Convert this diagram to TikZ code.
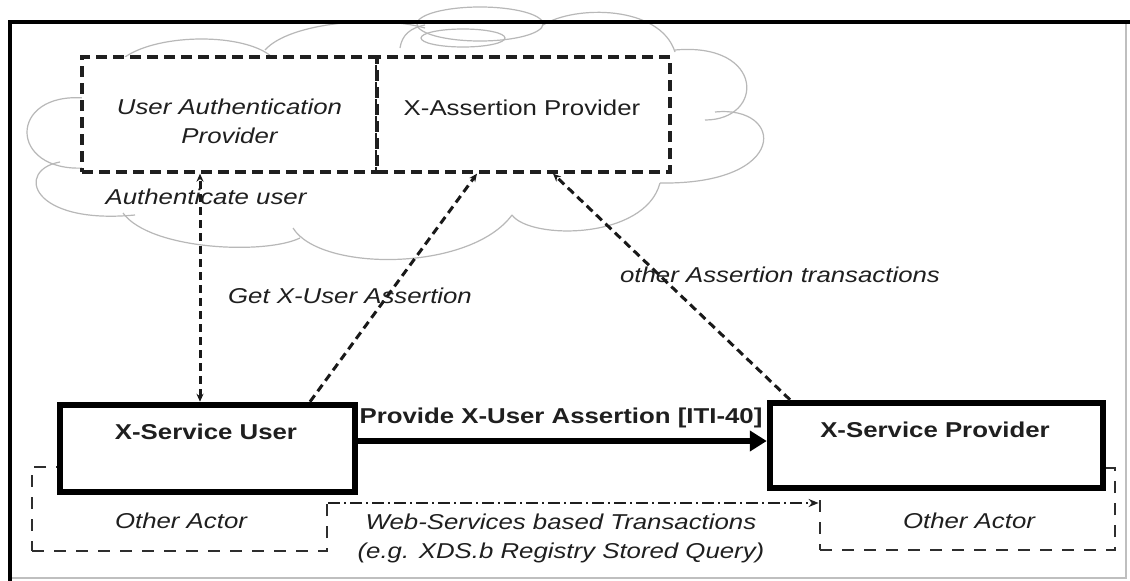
\documentclass[tikz,border=0pt]{standalone}
\usepackage{fontspec}
\setmainfont{Liberation Sans}[FakeStretch=1.2]
\usetikzlibrary{arrows.meta,calc}
\newcommand{\dfs}{\fontsize{21.5}{29}\selectfont}
\begin{document}
\begin{tikzpicture}[x=1pt,y=-1pt,
  cloudline/.style={draw=black!28, line width=1.2pt},
  dbox/.style={rectangle, inner sep=0pt, draw=black!88, line width=3.3pt, dash pattern=on 11pt off 6pt, fill=white},
  obox/.style={rectangle, inner sep=0pt, draw=black!82, line width=2.8pt, dash pattern=on 12pt off 10pt},
  tbox/.style={rectangle, inner sep=0pt, draw=black, line width=6.5pt, fill=white},
  dconn/.style={draw=black!90, line width=3pt, dash pattern=on 8pt off 5pt},
  smalltip/.style={-{Stealth[length=8pt,width=7pt]}},
  lbl/.style={anchor=base, inner sep=0pt, text=black!88, font=\dfs},
  ilbl/.style={lbl, font=\dfs\itshape},
  blbl/.style={lbl, font=\dfs\bfseries}]
\useasboundingbox (0,0) rectangle (1130,581);
\fill[white] (0,0) rectangle (1130,581);
% cloud
\draw[cloudline] (84,98) .. controls (8,92) and (8,172) .. (84,168);
\draw[cloudline] (60,162) .. controls (15,170) and (30,225) .. (135,215);
\draw[cloudline] (123,213) .. controls (150,250) and (265,255) .. (300,238);
\draw[cloudline] (293,228) .. controls (320,272) and (470,272) .. (512,215);
\draw[cloudline] (512,215) .. controls (530,240) and (645,240) .. (660,183);
\draw[cloudline] (660,183) .. controls (790,185) and (785,105) .. (715,112);
\draw[cloudline] (675,50) .. controls (765,42) and (765,120) .. (705,120);
\draw[cloudline] (543,25) .. controls (575,5) and (660,5) .. (675,52);
\draw[cloudline] (480,24) ellipse [x radius=63, y radius=17];
\draw[cloudline] (463,38) ellipse [x radius=42, y radius=9];
\draw[cloudline] (265,50) .. controls (290,22) and (380,15) .. (425,28);
\draw[cloudline] (125,57) .. controls (160,33) and (245,33) .. (272,57);
\draw[cloudline] (400,48) .. controls (402,35) and (410,28) .. (425,25);
% frame
\draw[black!25, line width=1.5pt] (10,578) -- (1126,578) -- (1126,22);
\draw[black, line width=4.5pt] (10,581) -- (10,22) -- (1130,22);
% providers in the cloud
\node[dbox, minimum width=295pt, minimum height=115pt] (uap) at (229.5,114.5) {};
\node[dbox, minimum width=293pt, minimum height=115pt] (xap) at (523.5,114.5) {};
% other actors
\node[obox, minimum width=295pt, minimum height=84pt] (oal) at (179.5,509) {};
\node[obox, minimum width=295pt, minimum height=82pt] (oar) at (967.5,509) {};
% service boxes
\node[tbox, minimum width=295pt, minimum height=87pt] (xsu) at (207.5,448.5) {};
\node[tbox, minimum width=333pt, minimum height=85pt] (xsp) at (936.5,445.5) {};
% connectors
\draw[dconn, {Stealth[length=8pt,width=7pt]}-{Stealth[length=8pt,width=7pt]}]
  ([xshift=-7.5pt]xsu.north) -- ([xshift=-7.5pt]xsu.north |- uap.south);
\draw[dconn, smalltip] ([xshift=102.5pt]xsu.north) -- ([xshift=-46.5pt]xap.south);
\draw[dconn, smalltip] ([xshift=-146.5pt]xsp.north) -- ([xshift=29.5pt]xap.south);
\draw[black, line width=5.5pt, -{Triangle[length=17pt,width=20pt]}]
  ([yshift=7.5pt]xsu.east) -- ([yshift=7.5pt]xsu.east -| xsp.west);
\draw[black!88, line width=2.4pt, dash pattern=on 12pt off 4pt on 2pt off 4pt, -{Stealth[length=10pt,width=8pt]}]
  ([yshift=6pt]oal.east) -- ([yshift=6pt]oal.east -| oar.west);
% labels
\node[ilbl, align=center] (tuap) at (229.5,143) {User Authentication\\Provider};
\node[lbl] (txap) at (522,115) {X-Assertion Provider};
\node[ilbl] (tauth) at (206,204) {Authenticate user};
\node[ilbl] (tget) at (350,303) {Get X-User Assertion};
\node[ilbl] (toth) at (780,282) {other Assertion transactions};
\node[blbl] (txsu) at (206,439) {X-Service User};
\node[blbl] (txsp) at (935,437) {X-Service Provider};
\node[blbl] (tprov) at (561,423) {Provide X-User Assertion [ITI-40]};
\node[ilbl] (toal) at (181,528) {Other Actor};
\node[ilbl] (toar) at (969,528) {Other Actor};
\node[ilbl, align=center] (tweb) at (561,558) {Web-Services based Transactions\\(e.g. XDS.b Registry Stored Query)};
\end{tikzpicture}
\end{document}
